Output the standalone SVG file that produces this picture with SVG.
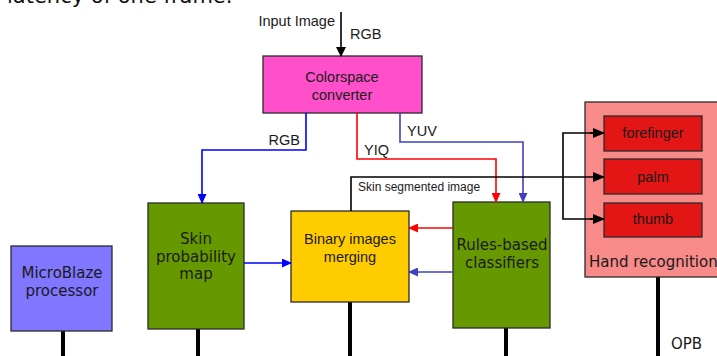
<svg xmlns="http://www.w3.org/2000/svg" width="717" height="356" viewBox="0 0 717 356">
<defs>
<style>
.box{stroke:#2a2a2a;stroke-width:1.3}
.a{font-family:"Liberation Sans",Arial,sans-serif;font-size:14.5px;fill:#1a1a1a}
.v{font-family:"DejaVu Sans",Verdana,sans-serif;font-size:15px;fill:#1a1a1a}
.c{text-anchor:middle}
.ln{fill:none;stroke-width:1.6}
.bus{stroke:#000;stroke-width:4}
</style>
<marker id="mk" markerWidth="10" markerHeight="10" refX="9" refY="5" orient="auto" markerUnits="userSpaceOnUse"><path d="M0,0 L10,5 L0,10 Z" fill="#000"/></marker>
<marker id="mkB" markerWidth="10" markerHeight="9" refX="9" refY="4.5" orient="auto" markerUnits="userSpaceOnUse"><path d="M0,0 L10,4.5 L0,9 Z" fill="#0000ff"/></marker>
<marker id="mkR" markerWidth="10" markerHeight="9" refX="9" refY="4.5" orient="auto" markerUnits="userSpaceOnUse"><path d="M0,0 L10,4.5 L0,9 Z" fill="#ff0000"/></marker>
<marker id="mkP" markerWidth="10" markerHeight="9" refX="9" refY="4.5" orient="auto" markerUnits="userSpaceOnUse"><path d="M0,0 L10,4.5 L0,9 Z" fill="#4040c0"/></marker>
<marker id="mkK" markerWidth="12" markerHeight="10" refX="11" refY="5" orient="auto" markerUnits="userSpaceOnUse"><path d="M0,0 L12,5 L0,10 Z" fill="#000"/></marker>
</defs>
<rect width="717" height="356" fill="#fff"/>
<text x="7" y="3" style="font-family:'DejaVu Sans',sans-serif;font-size:21px;fill:#111">latency of one frame.</text>

<g id="bus">
<line class="bus" x1="63" y1="331" x2="63" y2="356"/>
<line class="bus" x1="198" y1="329" x2="198" y2="356"/>
<line class="bus" x1="350" y1="302" x2="350" y2="356"/>
<line class="bus" x1="506" y1="328" x2="506" y2="356"/>
<line class="bus" x1="658" y1="277" x2="658" y2="356"/>
<text class="v" x="671" y="349">OPB</text>
</g>

<g id="colorspace">
<rect class="box" x="263" y="56" width="159" height="57" fill="#ff4fcb"/>
<text class="a c" x="342" y="82">Colorspace</text>
<text class="a c" x="342" y="100">converter</text>
</g>

<g id="skin">
<rect class="box" x="148" y="203" width="96" height="126" fill="#669900"/>
<text class="v c" x="196" y="244">Skin</text>
<text class="v c" x="196" y="262">probability</text>
<text class="v c" x="196" y="279">map</text>
</g>

<g id="microblaze">
<rect class="box" x="11" y="246" width="101" height="85" fill="#8076ff"/>
<text class="v c" x="62" y="278">MicroBlaze</text>
<text class="v c" x="62" y="296">processor</text>
</g>

<g id="binary">
<rect class="box" x="291" y="211" width="118" height="91" fill="#ffcc00"/>
<text class="a c" x="350" y="244">Binary images</text>
<text class="a c" x="350" y="262">merging</text>
</g>

<g id="rules">
<rect class="box" x="453" y="202" width="97" height="126" fill="#669900"/>
<text class="v c" x="502" y="250">Rules-based</text>
<text class="v c" x="502" y="268">classifiers</text>
</g>

<g id="hand">
<rect class="box" x="585" y="102" width="140" height="175" fill="#f88a8a"/>
<text class="v" x="589" y="267">Hand recognition</text>
<rect class="box" x="604" y="116" width="98" height="35" fill="#e31515"/>
<text class="a c" x="653" y="138">forefinger</text>
<rect class="box" x="604" y="159" width="98" height="35" fill="#e31515"/>
<text class="a c" x="653" y="182">palm</text>
<rect class="box" x="604" y="203" width="98" height="34" fill="#e31515"/>
<text class="a c" x="653" y="224">thumb</text>
</g>

<g id="connectors">
<line class="ln" x1="341" y1="12" x2="341" y2="56" stroke="#000" stroke-width="1.8" marker-end="url(#mk)"/>
<text class="a" x="335" y="26" text-anchor="end">Input Image</text>
<text class="a" x="350" y="39">RGB</text>

<polyline class="ln" points="306,113 306,150 202,150 202,203" stroke="#0000ff" marker-end="url(#mkB)"/>
<text class="a" x="300" y="145" text-anchor="end">RGB</text>

<polyline class="ln" points="357,113 357,159 496,159 496,202" stroke="#ff0000" marker-end="url(#mkR)"/>
<text class="a" x="364" y="155">YIQ</text>

<polyline class="ln" points="400,113 400,142 523,142 523,202" stroke="#4040c0" marker-end="url(#mkP)"/>
<text class="a" x="407" y="136">YUV</text>

<line class="ln" x1="244" y1="263" x2="291" y2="263" stroke="#0000ff" marker-end="url(#mkB)"/>
<line class="ln" x1="453" y1="228" x2="409" y2="228" stroke="#ff0000" marker-end="url(#mkR)"/>
<line class="ln" x1="453" y1="272" x2="409" y2="272" stroke="#4040c0" marker-end="url(#mkP)"/>

<polyline class="ln" points="351,211 351,177 604,177" stroke="#000" marker-end="url(#mkK)"/>
<text class="a" x="358" y="191" style="font-size:12px">Skin segmented image</text>
<polyline class="ln" points="604,133 563,133 563,219 604,219" stroke="#000"/>
<line class="ln" x1="590" y1="133" x2="604" y2="133" stroke="#000" marker-end="url(#mkK)"/>
<line class="ln" x1="590" y1="219" x2="604" y2="219" stroke="#000" marker-end="url(#mkK)"/>
</g>
</svg>
